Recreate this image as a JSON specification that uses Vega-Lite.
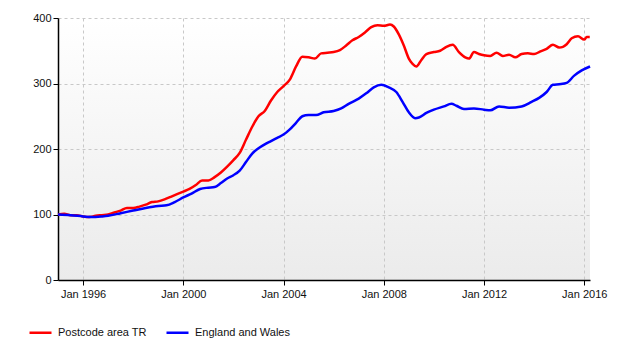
{
  "$schema": "https://vega.github.io/schema/vega-lite/v6.json",
  "autosize": {"type": "none"},
  "width": 532,
  "height": 262,
  "padding": {"left": 58, "top": 18, "right": 40, "bottom": 70},
  "background": "#ffffff",
  "config": {
    "view": {
      "stroke": null,
      "fill": {"gradient": "linear", "x1": 0, "y1": 0, "x2": 0, "y2": 1,
        "stops": [{"offset": 0, "color": "#ffffff"}, {"offset": 1, "color": "#ebebeb"}]}
    },
    "font": "Liberation Sans",
    "axis": {
      "labelFont": "Liberation Sans", "labelFontSize": 11, "labelColor": "#111111",
      "domainColor": "#000000", "domainWidth": 1.5, "tickColor": "#000000", "tickSize": 5,
      "gridColor": "#c8c8c8", "gridDash": [3, 3], "gridWidth": 1, "title": null
    },
    "legend": {"labelFont": "Liberation Sans", "labelFontSize": 11, "labelColor": "#111111"}
  },
  "datasets": {
    "pts": [
      {"s": "Postcode area TR", "t": 1995.0, "v": 100},
      {"s": "Postcode area TR", "t": 1995.25, "v": 101},
      {"s": "Postcode area TR", "t": 1995.5, "v": 99},
      {"s": "Postcode area TR", "t": 1995.75, "v": 99},
      {"s": "Postcode area TR", "t": 1996.0, "v": 97},
      {"s": "Postcode area TR", "t": 1996.25, "v": 96},
      {"s": "Postcode area TR", "t": 1996.5, "v": 98},
      {"s": "Postcode area TR", "t": 1996.75, "v": 99},
      {"s": "Postcode area TR", "t": 1997.0, "v": 100},
      {"s": "Postcode area TR", "t": 1997.25, "v": 103},
      {"s": "Postcode area TR", "t": 1997.5, "v": 106},
      {"s": "Postcode area TR", "t": 1997.75, "v": 110},
      {"s": "Postcode area TR", "t": 1998.0, "v": 110},
      {"s": "Postcode area TR", "t": 1998.25, "v": 112},
      {"s": "Postcode area TR", "t": 1998.5, "v": 115},
      {"s": "Postcode area TR", "t": 1998.75, "v": 119},
      {"s": "Postcode area TR", "t": 1999.0, "v": 120},
      {"s": "Postcode area TR", "t": 1999.25, "v": 123},
      {"s": "Postcode area TR", "t": 1999.5, "v": 127},
      {"s": "Postcode area TR", "t": 1999.75, "v": 131},
      {"s": "Postcode area TR", "t": 2000.0, "v": 135},
      {"s": "Postcode area TR", "t": 2000.25, "v": 139},
      {"s": "Postcode area TR", "t": 2000.5, "v": 145},
      {"s": "Postcode area TR", "t": 2000.75, "v": 152},
      {"s": "Postcode area TR", "t": 2001.0, "v": 152},
      {"s": "Postcode area TR", "t": 2001.25, "v": 157},
      {"s": "Postcode area TR", "t": 2001.5, "v": 164},
      {"s": "Postcode area TR", "t": 2001.75, "v": 173},
      {"s": "Postcode area TR", "t": 2002.0, "v": 183},
      {"s": "Postcode area TR", "t": 2002.25, "v": 194},
      {"s": "Postcode area TR", "t": 2002.5, "v": 214},
      {"s": "Postcode area TR", "t": 2002.75, "v": 234},
      {"s": "Postcode area TR", "t": 2003.0, "v": 250},
      {"s": "Postcode area TR", "t": 2003.25, "v": 258},
      {"s": "Postcode area TR", "t": 2003.5, "v": 274},
      {"s": "Postcode area TR", "t": 2003.75, "v": 287},
      {"s": "Postcode area TR", "t": 2004.0, "v": 296},
      {"s": "Postcode area TR", "t": 2004.25, "v": 306},
      {"s": "Postcode area TR", "t": 2004.5, "v": 326},
      {"s": "Postcode area TR", "t": 2004.75, "v": 341},
      {"s": "Postcode area TR", "t": 2005.0, "v": 340},
      {"s": "Postcode area TR", "t": 2005.25, "v": 338},
      {"s": "Postcode area TR", "t": 2005.5, "v": 346},
      {"s": "Postcode area TR", "t": 2005.75, "v": 347},
      {"s": "Postcode area TR", "t": 2006.0, "v": 348},
      {"s": "Postcode area TR", "t": 2006.25, "v": 351},
      {"s": "Postcode area TR", "t": 2006.5, "v": 358},
      {"s": "Postcode area TR", "t": 2006.75, "v": 366},
      {"s": "Postcode area TR", "t": 2007.0, "v": 371},
      {"s": "Postcode area TR", "t": 2007.25, "v": 378},
      {"s": "Postcode area TR", "t": 2007.5, "v": 386},
      {"s": "Postcode area TR", "t": 2007.75, "v": 389},
      {"s": "Postcode area TR", "t": 2008.0, "v": 388},
      {"s": "Postcode area TR", "t": 2008.25, "v": 390},
      {"s": "Postcode area TR", "t": 2008.4, "v": 387},
      {"s": "Postcode area TR", "t": 2008.6, "v": 375},
      {"s": "Postcode area TR", "t": 2008.8, "v": 358},
      {"s": "Postcode area TR", "t": 2009.0, "v": 338},
      {"s": "Postcode area TR", "t": 2009.15, "v": 330},
      {"s": "Postcode area TR", "t": 2009.3, "v": 326},
      {"s": "Postcode area TR", "t": 2009.5, "v": 336},
      {"s": "Postcode area TR", "t": 2009.7, "v": 345},
      {"s": "Postcode area TR", "t": 2010.0, "v": 348},
      {"s": "Postcode area TR", "t": 2010.25, "v": 350},
      {"s": "Postcode area TR", "t": 2010.5, "v": 356},
      {"s": "Postcode area TR", "t": 2010.75, "v": 359},
      {"s": "Postcode area TR", "t": 2011.0, "v": 348},
      {"s": "Postcode area TR", "t": 2011.25, "v": 340},
      {"s": "Postcode area TR", "t": 2011.4, "v": 338},
      {"s": "Postcode area TR", "t": 2011.6, "v": 348},
      {"s": "Postcode area TR", "t": 2011.8, "v": 345},
      {"s": "Postcode area TR", "t": 2012.0, "v": 343},
      {"s": "Postcode area TR", "t": 2012.25, "v": 342},
      {"s": "Postcode area TR", "t": 2012.5, "v": 347},
      {"s": "Postcode area TR", "t": 2012.75, "v": 342},
      {"s": "Postcode area TR", "t": 2013.0, "v": 344},
      {"s": "Postcode area TR", "t": 2013.25, "v": 340},
      {"s": "Postcode area TR", "t": 2013.5, "v": 345},
      {"s": "Postcode area TR", "t": 2013.75, "v": 346},
      {"s": "Postcode area TR", "t": 2014.0, "v": 345},
      {"s": "Postcode area TR", "t": 2014.25, "v": 349},
      {"s": "Postcode area TR", "t": 2014.5, "v": 353},
      {"s": "Postcode area TR", "t": 2014.75, "v": 359},
      {"s": "Postcode area TR", "t": 2015.0, "v": 355},
      {"s": "Postcode area TR", "t": 2015.15, "v": 356},
      {"s": "Postcode area TR", "t": 2015.3, "v": 360},
      {"s": "Postcode area TR", "t": 2015.5, "v": 369},
      {"s": "Postcode area TR", "t": 2015.75, "v": 372},
      {"s": "Postcode area TR", "t": 2016.0, "v": 367},
      {"s": "Postcode area TR", "t": 2016.1, "v": 371},
      {"s": "Postcode area TR", "t": 2016.22, "v": 371},
      {"s": "England and Wales", "t": 1995.0, "v": 100},
      {"s": "England and Wales", "t": 1995.5, "v": 99},
      {"s": "England and Wales", "t": 1996.0, "v": 97},
      {"s": "England and Wales", "t": 1996.33, "v": 96},
      {"s": "England and Wales", "t": 1996.75, "v": 97},
      {"s": "England and Wales", "t": 1997.0, "v": 98},
      {"s": "England and Wales", "t": 1997.5, "v": 102},
      {"s": "England and Wales", "t": 1998.0, "v": 106},
      {"s": "England and Wales", "t": 1998.5, "v": 110},
      {"s": "England and Wales", "t": 1999.0, "v": 113},
      {"s": "England and Wales", "t": 1999.33, "v": 114},
      {"s": "England and Wales", "t": 1999.66, "v": 119},
      {"s": "England and Wales", "t": 2000.0, "v": 126},
      {"s": "England and Wales", "t": 2000.33, "v": 132},
      {"s": "England and Wales", "t": 2000.67, "v": 139},
      {"s": "England and Wales", "t": 2001.0, "v": 141},
      {"s": "England and Wales", "t": 2001.25, "v": 142},
      {"s": "England and Wales", "t": 2001.5, "v": 148},
      {"s": "England and Wales", "t": 2001.75, "v": 155},
      {"s": "England and Wales", "t": 2002.0, "v": 160},
      {"s": "England and Wales", "t": 2002.25, "v": 167},
      {"s": "England and Wales", "t": 2002.5, "v": 180},
      {"s": "England and Wales", "t": 2002.75, "v": 193},
      {"s": "England and Wales", "t": 2003.0, "v": 201},
      {"s": "England and Wales", "t": 2003.25, "v": 207},
      {"s": "England and Wales", "t": 2003.5, "v": 212},
      {"s": "England and Wales", "t": 2003.75, "v": 217},
      {"s": "England and Wales", "t": 2004.0, "v": 222},
      {"s": "England and Wales", "t": 2004.25, "v": 230},
      {"s": "England and Wales", "t": 2004.5, "v": 240},
      {"s": "England and Wales", "t": 2004.75, "v": 250},
      {"s": "England and Wales", "t": 2005.0, "v": 252},
      {"s": "England and Wales", "t": 2005.3, "v": 252},
      {"s": "England and Wales", "t": 2005.6, "v": 256},
      {"s": "England and Wales", "t": 2006.0, "v": 258},
      {"s": "England and Wales", "t": 2006.3, "v": 262},
      {"s": "England and Wales", "t": 2006.6, "v": 269},
      {"s": "England and Wales", "t": 2007.0, "v": 277},
      {"s": "England and Wales", "t": 2007.3, "v": 285},
      {"s": "England and Wales", "t": 2007.6, "v": 294},
      {"s": "England and Wales", "t": 2007.9, "v": 298},
      {"s": "England and Wales", "t": 2008.2, "v": 294},
      {"s": "England and Wales", "t": 2008.5, "v": 287},
      {"s": "England and Wales", "t": 2008.75, "v": 272},
      {"s": "England and Wales", "t": 2009.0, "v": 256},
      {"s": "England and Wales", "t": 2009.25, "v": 247},
      {"s": "England and Wales", "t": 2009.4, "v": 248},
      {"s": "England and Wales", "t": 2009.7, "v": 255},
      {"s": "England and Wales", "t": 2010.0, "v": 260},
      {"s": "England and Wales", "t": 2010.4, "v": 265},
      {"s": "England and Wales", "t": 2010.7, "v": 269},
      {"s": "England and Wales", "t": 2010.9, "v": 266},
      {"s": "England and Wales", "t": 2011.2, "v": 261},
      {"s": "England and Wales", "t": 2011.6, "v": 262},
      {"s": "England and Wales", "t": 2012.0, "v": 260},
      {"s": "England and Wales", "t": 2012.25, "v": 259},
      {"s": "England and Wales", "t": 2012.6, "v": 265},
      {"s": "England and Wales", "t": 2013.0, "v": 263},
      {"s": "England and Wales", "t": 2013.5, "v": 265},
      {"s": "England and Wales", "t": 2013.9, "v": 272},
      {"s": "England and Wales", "t": 2014.2, "v": 278},
      {"s": "England and Wales", "t": 2014.5, "v": 287},
      {"s": "England and Wales", "t": 2014.75, "v": 298},
      {"s": "England and Wales", "t": 2015.0, "v": 299},
      {"s": "England and Wales", "t": 2015.3, "v": 301},
      {"s": "England and Wales", "t": 2015.6, "v": 312},
      {"s": "England and Wales", "t": 2015.9, "v": 320},
      {"s": "England and Wales", "t": 2016.23, "v": 326}
    ]
  },
  "data": {"name": "pts"},
  "mark": {"type": "line", "strokeWidth": 2.5, "interpolate": "monotone"},
  "encoding": {
    "x": {
      "field": "t", "type": "quantitative",
      "scale": {"domain": [1995, 2016.23], "nice": false, "zero": false},
      "axis": {"values": [1996, 2000, 2004, 2008, 2012, 2016], "labelExpr": "'Jan ' + datum.value", "labelPadding": 3}
    },
    "y": {
      "field": "v", "type": "quantitative",
      "scale": {"domain": [0, 400], "nice": false},
      "axis": {"values": [0, 100, 200, 300, 400], "labelPadding": 2}
    },
    "color": {
      "field": "s", "type": "nominal",
      "scale": {"domain": ["Postcode area TR", "England and Wales"], "range": ["#ff0000", "#0000ff"]},
      "legend": {
        "title": null, "orient": "none", "direction": "horizontal",
        "legendX": -30, "legendY": 302, "padding": 0,
        "symbolType": "stroke", "symbolSize": 484, "symbolStrokeWidth": 2.5,
        "labelOffset": 5, "columnPadding": 14
      }
    }
  }
}
